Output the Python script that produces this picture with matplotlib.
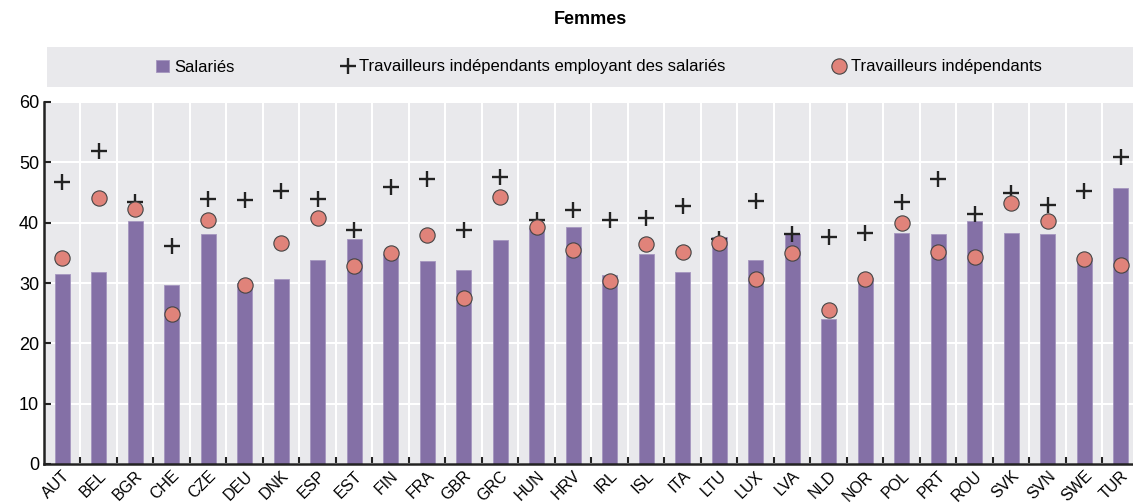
import numpy as np
import matplotlib
matplotlib.use("Agg")
import matplotlib.pyplot as plt
from matplotlib.ticker import FixedLocator

plt.rcParams['font.family'] = ['Liberation Sans', 'DejaVu Sans']

pays = ["AUT", "BEL", "BGR", "CHE", "CZE", "DEU", "DNK", "ESP", "EST", "FIN",
        "FRA", "GBR", "GRC", "HUN", "HRV", "IRL", "ISL", "ITA", "LTU", "LUX",
        "LVA", "NLD", "NOR", "POL", "PRT", "ROU", "SVK", "SVN", "SWE", "TUR"]
salaries = [31.5, 31.9, 40.3, 29.7, 38.2, 30.0, 30.6, 33.8, 37.3, 34.8,
            33.6, 32.1, 37.1, 39.1, 39.2, 31.3, 34.8, 31.8, 37.7, 33.8,
            38.2, 24.0, 30.9, 38.3, 38.1, 40.3, 38.3, 38.2, 34.2, 45.7]
indep_employeurs = [46.8, 51.9, 43.5, 36.2, 44.0, 43.8, 45.2, 43.9, 38.8, 45.9,
                    47.2, 38.8, 47.6, 40.4, 42.1, 40.4, 40.7, 42.8, 37.3, 43.6,
                    38.1, 37.6, 38.3, 43.5, 47.3, 41.4, 45.0, 42.9, 45.3, 50.9]
indep = [34.2, 44.1, 42.3, 24.9, 40.4, 29.7, 36.6, 40.7, 32.9, 35.0,
         37.9, 27.5, 44.3, 39.3, 35.4, 30.4, 36.4, 35.1, 36.6, 30.6,
         34.9, 25.6, 30.7, 40.0, 35.1, 34.3, 43.3, 40.2, 34.0, 33.0]

fig = plt.figure(figsize=(11.33, 5.04), dpi=100)
ax = fig.add_axes([44/1133, 1-464/504, 1-44/1133, (464-102)/504])
ax.set_facecolor("#e9e9ec")

x = np.arange(len(pays))
b = ax.bar(x, salaries, width=0.41, color="#8470a6", edgecolor="#a596bf", linewidth=0.6,
           zorder=2, label="Salariés")
p, = ax.plot(x, indep_employeurs, linestyle="none", marker="+", markersize=11,
             markeredgewidth=1.7, color="#222222", zorder=3,
             label="Travailleurs indépendants employant des salariés")
c, = ax.plot(x, indep, linestyle="none", marker="o", markersize=11,
             markerfacecolor="#e0837a", markeredgecolor="#444444", markeredgewidth=0.8,
             zorder=4, label="Travailleurs indépendants")

ax.set_xlim(-0.5, 29.34)
ax.set_ylim(0, 60)
ax.set_yticks(np.arange(0, 61, 10))
ax.set_xticks(x)
ax.set_xticklabels(pays, rotation=45, ha="right", rotation_mode="anchor", fontsize=11.5)
ax.xaxis.set_minor_locator(FixedLocator(np.arange(0.5, 30, 1)))
ax.tick_params(axis="x", which="major", length=0, pad=3)
ax.tick_params(axis="x", which="minor", length=5, width=1.5, color="#222222", direction="in")
ax.tick_params(axis="y", labelsize=13, length=5, width=1.5, color="#222222", direction="in")
ax.grid(axis="y", color="white", linewidth=1.5, zorder=0)
ax.grid(axis="x", which="minor", color="white", linewidth=1.5, zorder=0)
ax.set_axisbelow(True)
for s in ["top", "right"]:
    ax.spines[s].set_visible(False)
for s in ["left", "bottom"]:
    ax.spines[s].set_color("#222222")
    ax.spines[s].set_linewidth(1.8)

# bandeau de légende
lax = fig.add_axes([47/1133, 1-87/504, 1-47/1133, 40/504])
lax.set_facecolor("#e9e9ec")
lax.set_xticks([])
lax.set_yticks([])
for s in lax.spines.values():
    s.set_visible(False)
lax.legend([b, p, c], [b.get_label(), p.get_label(), c.get_label()],
           loc="center", ncol=3, frameon=False, fontsize=12,
           handlelength=0.8, handletextpad=0.3, columnspacing=6.4,
           bbox_to_anchor=(0.508, 0.5))

fig.text(590/1133, 1-20/504, "Femmes", ha="center", va="center",
         fontsize=13, fontweight="bold")

fig.savefig("out.png", dpi=100)
